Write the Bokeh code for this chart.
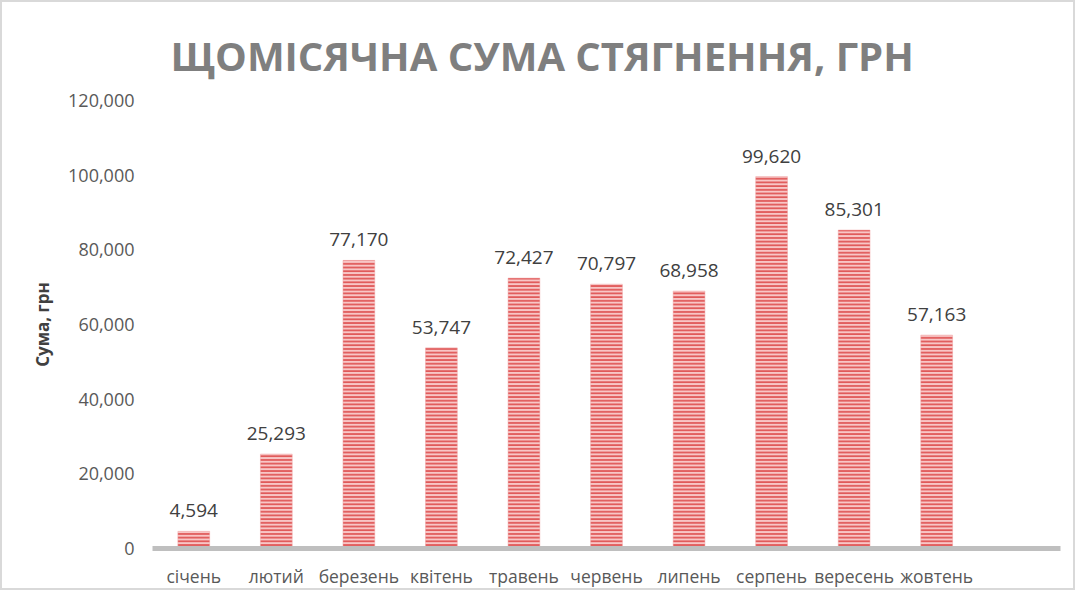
from bokeh.plotting import figure
from bokeh.models import ColumnDataSource, FixedTicker, NumeralTickFormatter, Range1d, LabelSet
from bokeh.core.properties import value
from bokeh.embed import file_html
from bokeh.resources import INLINE

title = "ЩОМІСЯЧНА СУМА СТЯГНЕННЯ, ГРН"
months = ["січень", "лютий", "березень", "квітень", "травень", "червень",
          "липень", "серпень", "вересень", "жовтень"]
values = [4594, 25293, 77170, 53747, 72427, 70797, 68958, 99620, 85301, 57163]
y_ticks = [0, 20000, 40000, 60000, 80000, 100000, 120000]

xs = [i + 0.5 for i in range(len(months))]
src = ColumnDataSource(dict(x=xs, top=values, lab=[f"{v:,}" for v in values]))

p = figure(width=1075, height=590, output_backend="svg", toolbar_location=None,
           x_range=Range1d(0, 11), y_range=Range1d(0, 120000),
           min_border_left=150, min_border_right=17, min_border_top=98, min_border_bottom=44)
p.styles = {"border": "2px solid #d9d9d9"}
p.outline_line_color = None
p.grid.visible = False

p.title.text = title
p.title.align = "left"
p.title.offset = 18
p.title.standoff = 36
p.title.text_font = "Open Sans"
p.title.text_font_size = "40px"
p.title.text_font_style = "bold"
p.title.text_color = "#7f7f7f"

p.vbar(x="x", top="top", width=0.385, source=src, fill_color="#f8c6c6",
       line_color="#f0a8a8", line_width=0.5,
       hatch_pattern="horizontal_line", hatch_color="#e05858", hatch_scale=3.7, hatch_weight=1.8)

labels = LabelSet(x="x", y="top", text="lab", source=src, text_align="center",
                  text_baseline="bottom", y_offset=14, text_font=value("Open Sans"),
                  text_font_size="19px", text_color="#404040")
p.add_layout(labels)

p.xaxis.ticker = FixedTicker(ticks=xs)
p.xaxis.major_label_overrides = {x: m for x, m in zip(xs, months)}
p.xaxis.major_label_text_font = "Open Sans"
p.xaxis.major_label_text_font_size = "17.5px"
p.xaxis.major_label_text_color = "#595959"
p.xaxis.major_label_standoff = 9
p.xaxis.axis_line_color = "#bfbfbf"
p.xaxis.axis_line_width = 5
p.xaxis.major_tick_line_color = None
p.xaxis.minor_tick_line_color = None

p.yaxis.ticker = FixedTicker(ticks=y_ticks)
p.yaxis.formatter = NumeralTickFormatter(format="0,0")
p.yaxis.major_label_text_font = "Open Sans"
p.yaxis.major_label_text_font_size = "18px"
p.yaxis.major_label_text_color = "#595959"
p.yaxis.major_label_standoff = 12
p.yaxis.axis_line_color = None
p.yaxis.major_tick_line_color = None
p.yaxis.minor_tick_line_color = None
p.yaxis.axis_label = "Сума, грн"
p.yaxis.axis_label_text_font = "Open Sans"
p.yaxis.axis_label_text_font_size = "17px"
p.yaxis.axis_label_text_font_style = "bold"
p.yaxis.axis_label_text_color = "#404040"
p.yaxis.axis_label_standoff = 11

open("out.html", "w").write(file_html(p, INLINE))
